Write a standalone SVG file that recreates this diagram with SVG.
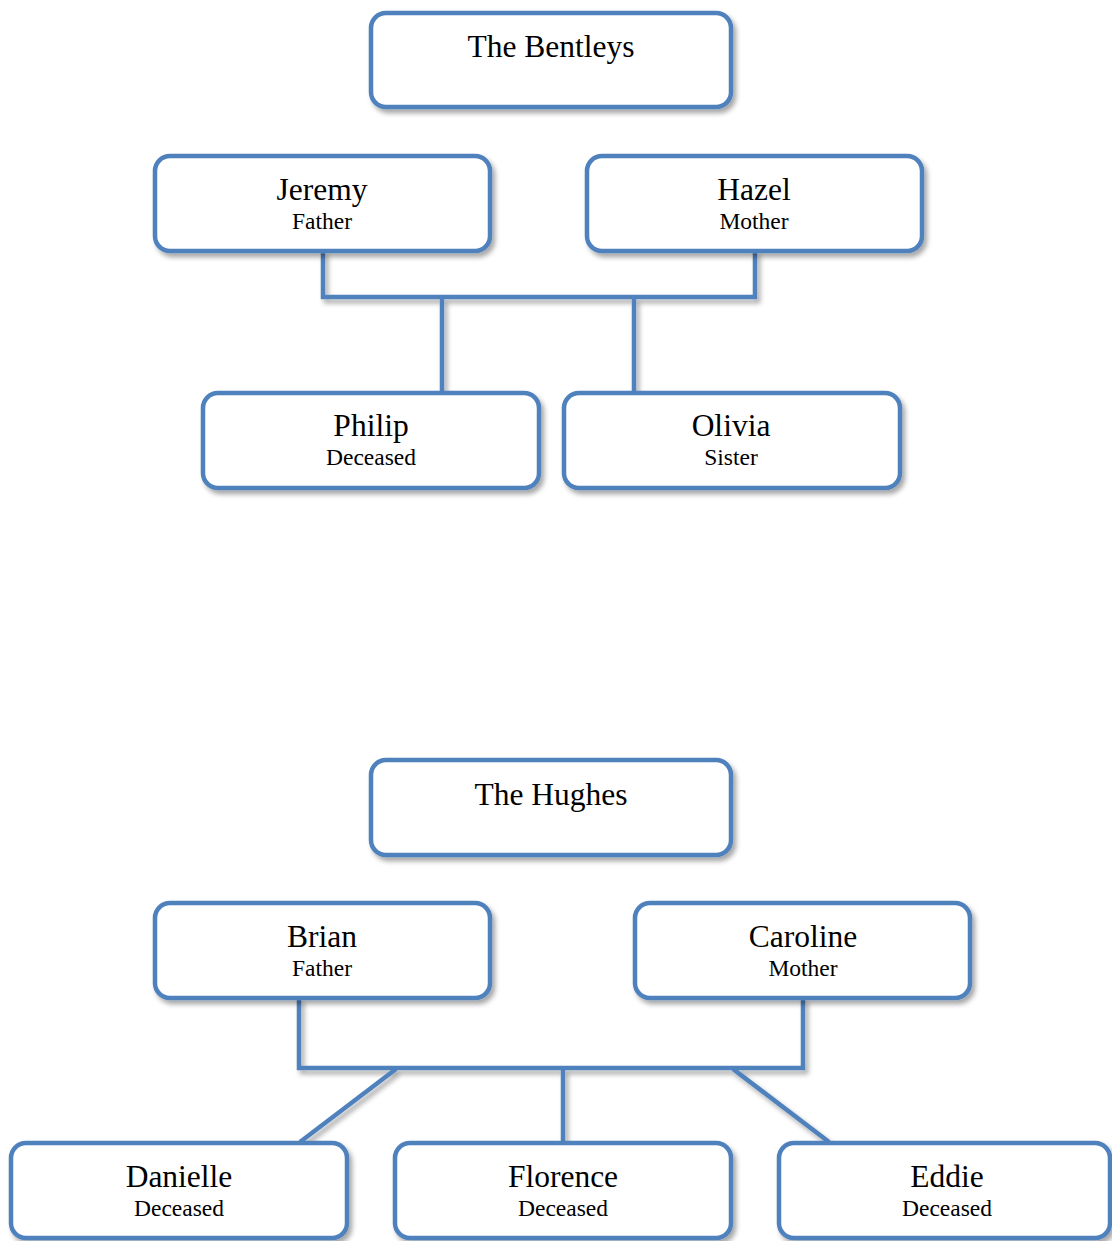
<svg xmlns="http://www.w3.org/2000/svg" width="1112" height="1241" viewBox="0 0 1112 1241">
<style>
.box{fill:#fff;stroke:#4F81BD;stroke-width:4.5;filter:url(#sh)}
.ln{fill:none;stroke:#4F81BD;stroke-width:4.5;stroke-linecap:butt;stroke-linejoin:miter}
.nm{font-family:"Liberation Serif","Times New Roman",serif;font-size:31.5px;fill:#000;text-anchor:middle}
.sb{font-family:"Liberation Serif","Times New Roman",serif;font-size:23.5px;fill:#000;text-anchor:middle}
</style>
<defs>
<filter id="sh" x="-10%" y="-20%" width="130%" height="150%">
<feDropShadow dx="3" dy="4" stdDeviation="2.5" flood-color="#000" flood-opacity="0.35"/>
</filter>
</defs>
<rect width="1112" height="1241" fill="#fff"/>
<g id="connectors" filter="url(#sh)">
<path class="ln" d="M323 251 V297 H755 V251"/>
<path class="ln" d="M442 297 V393"/>
<path class="ln" d="M634 297 V393"/>
<path class="ln" d="M299 998 V1068 H803 V998"/>
<path class="ln" d="M396 1069 L300 1142"/>
<path class="ln" d="M563 1068 V1143"/>
<path class="ln" d="M733 1069 L829 1142"/>
</g>
<g id="bentleys"><rect class="box" x="371" y="13" width="360" height="94" rx="15"/><text class="nm" x="551" y="57">The Bentleys</text></g>
<g id="jeremy"><rect class="box" x="155" y="156" width="335" height="95" rx="15"/><text class="nm" x="322" y="200">Jeremy</text><text class="sb" x="322" y="229">Father</text></g>
<g id="hazel"><rect class="box" x="587" y="156" width="335" height="95" rx="15"/><text class="nm" x="754" y="200">Hazel</text><text class="sb" x="754" y="229">Mother</text></g>
<g id="philip"><rect class="box" x="203" y="393" width="336" height="95" rx="15"/><text class="nm" x="371" y="436">Philip</text><text class="sb" x="371" y="465">Deceased</text></g>
<g id="olivia"><rect class="box" x="564" y="393" width="336" height="95" rx="15"/><text class="nm" x="731" y="436">Olivia</text><text class="sb" x="731" y="465">Sister</text></g>
<g id="hughes"><rect class="box" x="371" y="760" width="360" height="95" rx="15"/><text class="nm" x="551" y="805">The Hughes</text></g>
<g id="brian"><rect class="box" x="155" y="903" width="335" height="95" rx="15"/><text class="nm" x="322" y="947">Brian</text><text class="sb" x="322" y="976">Father</text></g>
<g id="caroline"><rect class="box" x="635" y="903" width="335" height="95" rx="15"/><text class="nm" x="803" y="947">Caroline</text><text class="sb" x="803" y="976">Mother</text></g>
<g id="danielle"><rect class="box" x="11" y="1143" width="336" height="95" rx="15"/><text class="nm" x="179" y="1187">Danielle</text><text class="sb" x="179" y="1216">Deceased</text></g>
<g id="florence"><rect class="box" x="395" y="1143" width="336" height="95" rx="15"/><text class="nm" x="563" y="1187">Florence</text><text class="sb" x="563" y="1216">Deceased</text></g>
<g id="eddie"><rect class="box" x="779" y="1143" width="331" height="95" rx="15"/><text class="nm" x="947" y="1187">Eddie</text><text class="sb" x="947" y="1216">Deceased</text></g>
</svg>
